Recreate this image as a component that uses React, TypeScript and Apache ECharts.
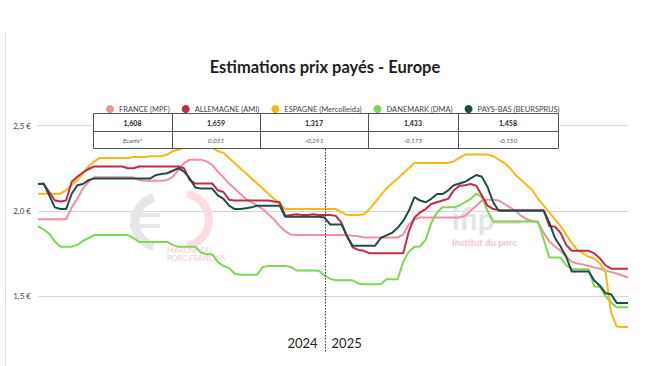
import { useEffect, useRef } from 'react';
import * as echarts from 'echarts';

// ---------- categories (weekly) ----------
const weeks: string[] = [];
for (let w = 2; w <= 52; w++) weeks.push('2024-S' + String(w).padStart(2, '0'));
for (let w = 1; w <= 52; w++) weeks.push('2025-S' + String(w).padStart(2, '0'));
for (let w = 1; w <= 3; w++) weeks.push('2026-S' + String(w).padStart(2, '0'));
const dividerWeek = '2025-S01';
const yearLabels = ['2024', '2025'];

// ---------- series ----------
const seriesNames = ['FRANCE (MPF)', 'ALLEMAGNE (AMI)', 'ESPAGNE (Mercolleida)', 'DANEMARK (DMA)', 'PAYS-BAS (BEURSPRIJS)'];
const seriesColors = ['#F0909F', '#C22B47', '#F6B914', '#7ED657', '#1C4D49'];
const seriesZ = [2, 5, 4, 3, 6];

const france = [
  1.95, 1.95, 1.95, 1.95, 1.95, 1.95, 2.02, 2.07, 2.13, 2.17, 2.196,
  2.196, 2.196, 2.196, 2.196, 2.196, 2.196, 2.196, 2.18, 2.176, 2.176, 2.176, 2.176,
  2.18, 2.2, 2.24, 2.28, 2.3, 2.3, 2.3, 2.29, 2.27, 2.23, 2.196, 2.16, 2.13, 2.1, 2.07, 2.05, 2.03, 2.01, 1.98, 1.95, 1.91, 1.88, 1.86,
  1.857, 1.857, 1.857, 1.857, 1.857, 1.857, 1.857, 1.857, 1.857, 1.857, 1.853, 1.85,
  1.843, 1.843, 1.843, 1.843, 1.843, 1.843, 1.843, 1.86, 1.92, 1.95, 1.96,
  1.96, 1.96, 1.96, 1.96, 1.96, 1.96, 1.96,
  1.97, 2.0, 2.03, 2.06, 2.065, 2.065, 2.06, 2.04, 2.02, 2.0, 1.97, 1.95, 1.94, 1.93, 1.87, 1.82, 1.79, 1.765, 1.73, 1.7,
  1.69, 1.685, 1.676, 1.667, 1.66, 1.65, 1.64, 1.632, 1.62, 1.608,
];
const allemagne = [
  2.157, 2.157, 2.11, 2.06, 2.055, 2.06, 2.17, 2.2, 2.225, 2.245, 2.26,
  2.26, 2.26, 2.26, 2.26, 2.26, 2.25, 2.25,
  2.26, 2.26, 2.26, 2.26, 2.26, 2.26, 2.26, 2.26,
  2.25, 2.18, 2.16, 2.16, 2.16, 2.16, 2.12, 2.11, 2.065,
  2.06, 2.06, 2.06, 2.06, 2.06, 2.06, 2.06, 2.055, 2.05, 1.97,
  1.975, 1.98, 1.975, 1.975, 1.98, 1.975, 1.975, 1.975, 1.97,
  1.93, 1.85, 1.785, 1.77, 1.765, 1.75, 1.75, 1.75, 1.75, 1.75, 1.75, 1.75,
  1.88, 1.96, 1.99, 2.01, 2.04, 2.05, 2.06, 2.07, 2.12, 2.147, 2.15, 2.157, 2.147, 2.09, 2.03, 2.01, 2.005,
  2.003, 2.003, 2.003, 2.003, 2.003, 2.003, 2.003, 2.003,
  1.91, 1.906, 1.87, 1.8, 1.765, 1.765, 1.765, 1.765, 1.75, 1.72, 1.68, 1.66, 1.659, 1.659, 1.659,
];
const espagne = [
  2.1, 2.1, 2.1, 2.1, 2.1, 2.12, 2.15, 2.18, 2.22, 2.26, 2.29, 2.31,
  2.31, 2.31, 2.31, 2.31, 2.31, 2.315, 2.315, 2.315, 2.32, 2.32, 2.32,
  2.33, 2.35, 2.36, 2.37, 2.37, 2.37, 2.37, 2.37, 2.37,
  2.35, 2.34, 2.31, 2.28, 2.25, 2.22, 2.19, 2.16, 2.13, 2.1, 2.07, 2.04, 2.01,
  2.01, 2.01, 2.01, 2.01, 2.01, 2.01, 2.01, 2.01, 2.01,
  1.99, 1.975, 1.975, 1.975, 1.98, 2.01, 2.05, 2.09, 2.13, 2.16, 2.19, 2.22, 2.25, 2.28,
  2.28, 2.28, 2.28, 2.28, 2.28, 2.28, 2.29, 2.31, 2.33, 2.33, 2.33, 2.33, 2.33,
  2.32, 2.3, 2.28, 2.25, 2.21, 2.18, 2.15, 2.12, 2.07, 2.03, 1.99, 1.95, 1.91, 1.86, 1.81, 1.77, 1.75, 1.73, 1.72, 1.69, 1.64, 1.4, 1.32, 1.317, 1.317,
];
const danemark = [
  1.91, 1.89, 1.865, 1.82, 1.788, 1.788, 1.788, 1.8, 1.824, 1.84, 1.857,
  1.857, 1.857, 1.857, 1.857, 1.857, 1.857, 1.84, 1.817,
  1.817, 1.817, 1.817, 1.817, 1.817,
  1.8, 1.788, 1.788, 1.788, 1.788, 1.755, 1.745, 1.745, 1.7, 1.676, 1.665, 1.63,
  1.624, 1.624, 1.624, 1.625,
  1.67, 1.676, 1.676, 1.676, 1.676, 1.67, 1.65, 1.65, 1.65, 1.65, 1.648,
  1.62, 1.6, 1.592, 1.592, 1.592, 1.592, 1.572, 1.569, 1.569, 1.569, 1.569,
  1.598, 1.598, 1.598, 1.7, 1.76, 1.788, 1.79, 1.83, 1.93, 1.99, 2.02, 2.02, 2.02, 2.03, 2.05, 2.07, 2.1, 2.08, 2.0, 1.937,
  1.937, 1.937, 1.937, 1.937, 1.937, 1.937, 1.937, 1.937,
  1.83, 1.725, 1.725, 1.725, 1.68, 1.657, 1.657, 1.657, 1.657, 1.555, 1.553, 1.5, 1.46, 1.433, 1.433, 1.433,
];
const paysBas = [
  2.157, 2.16, 2.09, 2.02, 2.01, 2.01, 2.1, 2.15, 2.157, 2.18, 2.19,
  2.19, 2.19, 2.19, 2.19, 2.19, 2.19, 2.19, 2.19, 2.19, 2.19,
  2.21, 2.216, 2.22, 2.235, 2.25, 2.23, 2.19, 2.137, 2.13, 2.13, 2.13, 2.09, 2.07, 2.03, 2.01, 2.01, 2.015, 2.02, 2.03,
  2.03, 2.03, 2.03, 2.03, 1.965,
  1.965, 1.965, 1.965, 1.965, 1.965, 1.965,
  1.96, 1.92, 1.92, 1.92, 1.85, 1.795, 1.795, 1.795, 1.795, 1.795,
  1.84, 1.855, 1.87, 1.9, 1.94, 2.0, 2.08, 2.06, 2.05, 2.07, 2.098, 2.098, 2.12, 2.15, 2.16, 2.17, 2.19, 2.21, 2.2, 2.14, 2.05, 2.0,
  2.0, 2.0, 2.0, 2.0, 2.0, 2.0, 2.0, 2.0,
  1.93, 1.84, 1.79, 1.73, 1.643, 1.643, 1.643, 1.643, 1.59, 1.56, 1.516, 1.51, 1.458, 1.458, 1.458,
];
const seriesData = [france, allemagne, espagne, danemark, paysBas];

// ---------- table layout ----------
const tableCols = [93, 172, 260, 368, 458, 558];
const tableRows = [113, 131, 148];
const ecartsLabel = 'Ecarts*';

const fmt3 = (v: number) => v.toFixed(3).replace('.', ',');

export default function App() {
  const ref = useRef<HTMLDivElement>(null);
  useEffect(() => {
    if (!ref.current) return;
    const chart = echarts.init(ref.current, null, { renderer: 'svg' });
    const font = 'Lato';
    const dividerIndex = weeks.indexOf(dividerWeek);
    chart.setOption({
      animation: false,
      backgroundColor: '#ffffff',
      textStyle: { fontFamily: font },
      title: {
        text: 'Estimations prix payés - Europe',
        left: 'center',
        top: 53,
        textStyle: { fontSize: 16.5, fontWeight: 'bold', color: '#1e1e1e', fontFamily: font },
      },
      legend: {
        data: seriesNames,
        left: 106,
        top: 105,
        padding: 0,
        icon: 'circle',
        itemWidth: 8,
        itemHeight: 8,
        itemGap: 12,
        textStyle: { fontSize: 7.5, color: '#444', fontFamily: font },
      },
      grid: { left: 38, right: 22, top: 83, bottom: 36 },
      xAxis: {
        type: 'category',
        data: weeks,
        boundaryGap: false,
        axisLine: { show: false },
        axisTick: { show: false },
        splitLine: { show: false },
        axisLabel: {
          interval: (i: number) => i === dividerIndex,
          formatter: (_v: string, i: number) =>
            i === dividerIndex ? `{a|${yearLabels[0]}}{g|}{a|${yearLabels[1]}}` : '',
          margin: 6,
          rich: {
            a: { fontSize: 13, color: '#222', fontFamily: font },
            g: { width: 14 },
          },
        },
      },
      yAxis: {
        type: 'value',
        min: 1.3,
        max: 2.75,
        splitNumber: 3,
        axisLine: { show: false },
        axisTick: { show: false },
        axisLabel: {
          formatter: (v: number) => v.toFixed(1).replace('.', ',') + ' €',
          fontSize: 8,
          color: '#444',
          margin: 7,
          showMinLabel: false,
          showMaxLabel: false,
        },
        splitLine: {
          show: true,
          showMinLine: false,
          showMaxLine: false,
          lineStyle: { color: '#d6d6d6', width: 1 },
        },
      },
      series: seriesNames.map((name, i) => ({
        name,
        type: 'line',
        data: seriesData[i],
        symbol: 'none',
        showSymbol: false,
        z: seriesZ[i],
        color: seriesColors[i],
        lineStyle: { color: seriesColors[i], width: 2 },
      })),
    });

    const xDiv = chart.convertToPixel({ xAxisIndex: 0 }, dividerWeek) as number;
    const ref0 = france[france.length - 1];
    const lastValues = seriesData.map((d) => d[d.length - 1]);
    const graphics: any[] = [];

    // frame line
    graphics.push({ type: 'line', shape: { x1: 5.5, y1: 32, x2: 5.5, y2: 366 }, style: { stroke: '#e2e2e2', lineWidth: 1 }, z: 0, silent: true });

    // watermarks
    graphics.push(
      { type: 'arc', shape: { cx: 160, cy: 222, r: 25, startAngle: Math.PI * 0.58, endAngle: Math.PI * 1.42 }, style: { stroke: '#e6e6e8', lineWidth: 9, fill: null }, z: 0, silent: true },
      { type: 'rect', shape: { x: 130, y: 213, width: 30, height: 4 }, style: { fill: '#e6e6e8' }, z: 0, silent: true },
      { type: 'rect', shape: { x: 130, y: 224, width: 30, height: 4 }, style: { fill: '#e6e6e8' }, z: 0, silent: true },
      { type: 'arc', shape: { cx: 183, cy: 220, r: 26, startAngle: -Math.PI * 0.45, endAngle: Math.PI * 0.45 }, style: { stroke: '#fbdde1', lineWidth: 8, fill: null }, z: 0, silent: true },
      { type: 'text', x: 167, y: 246, style: { text: 'MARCHÉ DU\nPORC FRANÇAIS', fill: '#f3c9cf', fontSize: 7.5, lineHeight: 8, fontFamily: font }, z: 0, silent: true },
      { type: 'text', x: 452, y: 203, style: { text: 'ifip', fill: '#e0e4ea', fontSize: 30, fontWeight: 'bold', fontFamily: font }, z: 0, silent: true },
      { type: 'rect', shape: { x: 493, y: 220, width: 27, height: 4 }, style: { fill: '#f7d4d9' }, z: 0, silent: true },
      { type: 'text', x: 452, y: 237, style: { text: 'Institut du porc', fill: '#f3c3ca', fontSize: 9.5, fontWeight: 'bold', fontFamily: font }, z: 0, silent: true },
    );

    // table
    const tx0 = tableCols[0];
    const tx1 = tableCols[tableCols.length - 1];
    graphics.push({
      type: 'rect',
      shape: { x: tx0 + 0.5, y: tableRows[0] + 0.5, width: tx1 - tx0, height: tableRows[2] - tableRows[0] },
      style: { fill: '#ffffff', stroke: '#555', lineWidth: 1 },
      z: 100,
    });
    graphics.push({ type: 'line', shape: { x1: tx0, y1: tableRows[1] + 0.5, x2: tx1, y2: tableRows[1] + 0.5 }, style: { stroke: '#555', lineWidth: 1 }, z: 101 });
    for (let c = 1; c < tableCols.length - 1; c++) {
      graphics.push({ type: 'line', shape: { x1: tableCols[c] + 0.5, y1: tableRows[0], x2: tableCols[c] + 0.5, y2: tableRows[2] }, style: { stroke: '#555', lineWidth: 1 }, z: 101 });
    }
    for (let c = 0; c < seriesNames.length; c++) {
      const cx = (tableCols[c] + tableCols[c + 1]) / 2;
      graphics.push({
        type: 'text', x: cx, y: (tableRows[0] + tableRows[1]) / 2 + 1, z: 102,
        style: { text: fmt3(lastValues[c]), fill: '#222', fontSize: 7, fontWeight: 'bold', fontFamily: font, align: 'center', verticalAlign: 'middle' },
      });
      graphics.push({
        type: 'text', x: cx, y: (tableRows[1] + tableRows[2]) / 2 + 1, z: 102,
        style: {
          text: c === 0 ? ecartsLabel : fmt3(lastValues[c] - ref0),
          fill: '#555', fontSize: 6.5, fontStyle: 'italic', fontFamily: font, align: 'center', verticalAlign: 'middle',
        },
      });
    }

    // year divider
    graphics.push({
      type: 'line',
      shape: { x1: Math.round(xDiv) + 0.5, y1: tableRows[2] + 1, x2: Math.round(xDiv) + 0.5, y2: 352 },
      style: { stroke: '#333', lineWidth: 1, lineDash: [1.5, 1.5] },
      z: 50,
      silent: true,
    });

    chart.setOption({ graphic: graphics });
    return () => chart.dispose();
  }, []);
  return (
    <div
      ref={ref}
      style={{ position: 'fixed', left: 0, top: 0, width: 650, height: 366, background: '#fff' }}
    />
  );
}
